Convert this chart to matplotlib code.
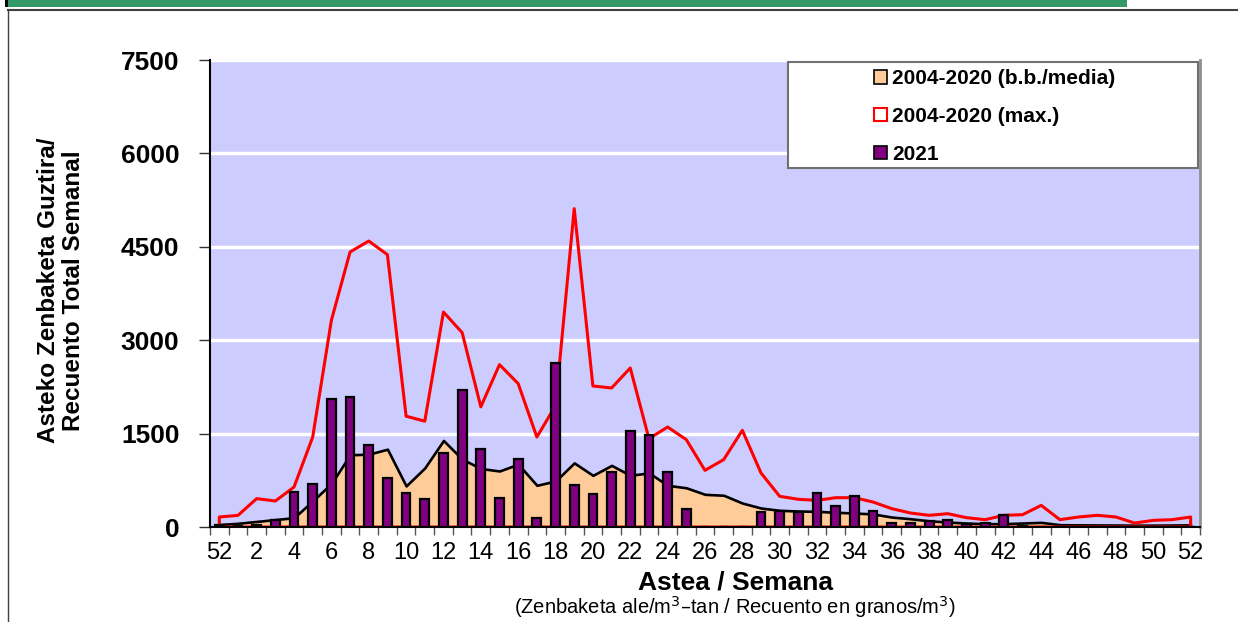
# Weekly pollen count chart: 2021 vs 2004-2020 mean and max

import matplotlib.pyplot as plt
from matplotlib.patches import Patch, Rectangle
from matplotlib.lines import Line2D

plt.rcParams["font.family"] = ["Liberation Sans", "DejaVu Sans"]

# Week labels (previous year's week 52, then weeks 1..52)
week_labels = [52] + list(range(1, 53))

# 2004-2020 mean (b.b./media)
mean_counts = [40, 60, 90, 120, 150, 420, 700, 1160, 1170, 1250,
               660, 950, 1390, 1090, 940, 900, 1010, 670, 740, 1030,
               830, 990, 830, 870, 670, 630, 525, 510, 385, 305,
               268, 257, 252, 236, 225, 210, 160, 133, 100, 80,
               64, 54, 54, 64, 75, 37, 35, 33, 32, 30,
               30, 32, 35]

# 2004-2020 max
max_counts = [161, 187, 456, 418, 642, 1445, 3320, 4417, 4593, 4374,
              1780, 1700, 3453, 3122, 1930, 2608, 2303, 1445, 1950, 5113,
              2265, 2233, 2554, 1420, 1606, 1403, 910, 1082, 1553, 867,
              493, 445, 428, 471, 471, 401, 295, 225, 188, 214,
              150, 118, 188, 198, 348, 118, 161, 188, 161, 64,
              107, 118, 161]

# 2021
counts_2021 = [25, 15, 30, 110, 557, 696, 2051, 2083, 1322, 792,
               546, 455, 1188, 2195, 1253, 461, 1097, 145, 2640, 680,
               525, 889, 1542, 1477, 889, 289, 0, 0, 0, 246,
               256, 236, 541, 337, 498, 257, 70, 70, 100, 112,
               50, 72, 188, 20, 0, 0, 0, 0, 0, 0,
               0, 0, 0]

x = list(range(len(week_labels)))

fig = plt.figure(figsize=(12.38, 6.22), dpi=100)
ax = fig.add_axes([0.1696, 0.1527, 0.7997, 0.7508])
ax.set_facecolor("#CCCCFF")

# gridlines
for v in [1500, 3000, 4500, 6000, 7500]:
    ax.axhline(v, color="white", lw=2.5, zorder=0.5)

ax.fill_between(x, 0, mean_counts, facecolor="#FFCC99", edgecolor="black",
                lw=1.9, zorder=1)
ax.fill_between(x, 0, max_counts, facecolor="none", edgecolor="#FF0000",
                lw=2.2, zorder=2)
ax.bar(x, counts_2021, width=0.47, color="#800080", edgecolor="black",
       lw=1.6, zorder=3)

ax.set_xlim(-0.5, len(x) - 0.5)
ax.set_ylim(0, 7500)

# axes / ticks
ax.set_yticks([0, 1500, 3000, 4500, 6000, 7500])
ax.tick_params(axis="y", direction="out", length=8, width=1, color="#333333",
               labelsize=19, pad=14)
for lab in ax.get_yticklabels():
    lab.set_fontweight("bold")

ax.set_xticks(x[::2])
ax.set_xticklabels([str(w) for w in week_labels[::2]])
ax.set_xticks([i - 0.5 for i in x] + [len(x) - 0.5], minor=True)
ax.tick_params(axis="x", which="major", length=0, labelsize=17, pad=11)
ax.tick_params(axis="x", which="minor", direction="out", length=6, width=1,
               color="#555555")

ax.spines["top"].set_visible(False)
ax.spines["right"].set_color("#909090")
ax.spines["right"].set_linewidth(2)
ax.spines["left"].set_linewidth(1.5)
ax.spines["bottom"].set_linewidth(1.5)

# labels
fig.text(0.0495, 0.533, "Asteko Zenbaketa Guztira/\nRecuento Total Semanal",
         rotation=90, ha="center", va="center", fontsize=17.5,
         fontweight="bold", linespacing=1.1)
fig.text(735 / 1238, 1 - 582 / 622, "Astea / Semana", ha="center",
         va="center", fontsize=19, fontweight="bold")
fig.text(735 / 1238, 1 - 607 / 622,
         "(Zenbaketa ale/m$^3$\u2013tan / Recuento en granos/m$^3$)",
         ha="center", va="center", fontsize=14.5)

# legend box
ax.add_patch(Rectangle((0.584, 0.769), 0.414, 0.227, transform=ax.transAxes,
                       facecolor="white", edgecolor="#707070", lw=1.5,
                       zorder=5))
handles = [Patch(facecolor="#FFCC99", edgecolor="black", lw=1.2),
           Patch(facecolor="white", edgecolor="#FF0000", lw=1.5),
           Patch(facecolor="#800080", edgecolor="black", lw=1.2)]
leg = ax.legend(handles, ["2004-2020 (b.b./media)", "2004-2020 (max.)", "2021"],
                loc="upper left", bbox_to_anchor=(0.652, 1.02), frameon=False,
                handlelength=0.6, handleheight=0.6, handletextpad=0.25,
                labelspacing=0.9, prop={"size": 15, "weight": "bold"})
leg.set_zorder(6)

# page decorations: green strip on top and frame lines
fig.add_artist(Rectangle((5 / 1238, 1 - 7 / 622), 1122 / 1238, 7 / 622,
                         transform=fig.transFigure, facecolor="#339966",
                         edgecolor="none"))
fig.add_artist(Rectangle((5 / 1238, 1 - 7 / 622), 3 / 1238, 7 / 622,
                         transform=fig.transFigure, facecolor="black",
                         edgecolor="none"))
fig.add_artist(Line2D([8 / 1238, 1], [1 - 9.5 / 622, 1 - 9.5 / 622],
                      transform=fig.transFigure, color="#404040", lw=1.5))
fig.add_artist(Line2D([8 / 1238, 8 / 1238], [0, 1 - 9.5 / 622],
                      transform=fig.transFigure, color="#404040", lw=1))

fig.savefig("out.png", dpi=100)
